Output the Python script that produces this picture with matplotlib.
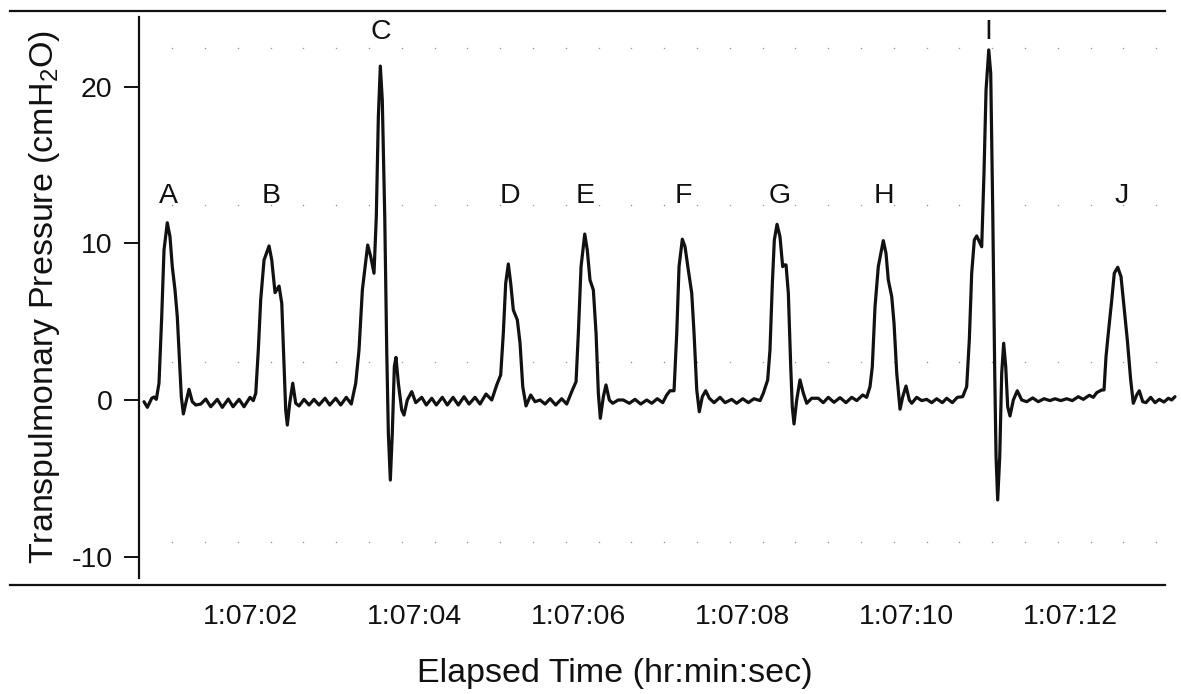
import numpy as np
import matplotlib
matplotlib.use("Agg")
import matplotlib.pyplot as plt
from matplotlib.lines import Line2D
from matplotlib.ticker import FuncFormatter

plt.rcParams['font.family'] = ['Liberation Sans', 'DejaVu Sans']
plt.rcParams['mathtext.default'] = 'regular'

# ---- data: time (seconds after 1:07:00) and transpulmonary pressure (cmH2O)
time_s = [
    0.707, 0.748, 0.801, 0.829, 0.857, 0.890, 0.923, 0.951, 0.991, 1.024, 1.052, 1.085, 1.113,
    1.143, 1.162, 1.187, 1.216, 1.256, 1.296, 1.338, 1.399, 1.460, 1.521, 1.601, 1.662, 1.735,
    1.793, 1.866, 1.927, 2.000, 2.040,
    2.070, 2.101, 2.130, 2.171, 2.232, 2.265, 2.305, 2.354, 2.387, 2.415, 2.435, 2.455, 2.484,
    2.521, 2.557, 2.598, 2.659, 2.720, 2.780, 2.841, 2.915, 2.972, 3.045, 3.106, 3.174, 3.235,
    3.289, 3.329, 3.370, 3.435, 3.472, 3.512, 3.540, 3.565, 3.589, 3.613, 3.643, 3.667, 3.687,
    3.711, 3.735, 3.760, 3.780, 3.809, 3.850, 3.878, 3.918, 3.972, 4.021, 4.094, 4.150, 4.216,
    4.272, 4.345, 4.406, 4.476, 4.540, 4.610, 4.671, 4.744, 4.805, 4.878, 4.948,
    5.009, 5.057, 5.089, 5.118, 5.150, 5.179, 5.211, 5.260, 5.293, 5.326, 5.366, 5.423, 5.476,
    5.537, 5.598, 5.659, 5.728, 5.801, 5.862,
    5.923, 5.976, 6.004, 6.037, 6.082, 6.113, 6.146, 6.187, 6.220, 6.248, 6.272, 6.309, 6.341,
    6.382, 6.423, 6.491, 6.552, 6.626, 6.695, 6.765, 6.838, 6.899, 6.967, 7.033,
    7.082, 7.122, 7.171, 7.204, 7.232, 7.272, 7.305, 7.345, 7.387, 7.415, 7.448, 7.479, 7.516,
    7.557, 7.601, 7.659, 7.732, 7.793, 7.874, 7.935, 8.009, 8.077, 8.146, 8.220,
    8.260, 8.313, 8.341, 8.370, 8.394, 8.427, 8.463, 8.496, 8.512, 8.537, 8.565, 8.594, 8.613,
    8.634, 8.667, 8.707, 8.748, 8.789, 8.850, 8.930,
    8.991, 9.052, 9.122, 9.195, 9.268, 9.338, 9.399, 9.472, 9.520,
    9.561, 9.589, 9.622, 9.662, 9.723, 9.756, 9.784, 9.826, 9.854, 9.887, 9.927, 9.960, 10.000,
    10.040, 10.070, 10.130, 10.191, 10.252, 10.313, 10.374, 10.443, 10.496, 10.565, 10.626, 10.691,
    10.740, 10.772, 10.801, 10.833, 10.862, 10.894, 10.923, 10.951, 10.976, 11.009, 11.033, 11.057,
    11.082, 11.098, 11.118, 11.143, 11.167, 11.191, 11.216, 11.240, 11.268, 11.309, 11.357, 11.411,
    11.472, 11.545, 11.613, 11.683, 11.756, 11.817, 11.887, 11.960, 12.028, 12.101, 12.162, 12.235,
    12.284,
    12.326, 12.387, 12.415, 12.439, 12.467, 12.509, 12.540, 12.582, 12.622, 12.659, 12.699, 12.740,
    12.772, 12.813, 12.845, 12.887, 12.927, 12.984, 13.037, 13.089, 13.146, 13.199, 13.240, 13.280,
]
pressure = [
    -0.11, -0.47, 0.11, 0.19, 0.04, 1.08, 5.32, 9.57, 11.31, 10.42, 8.51, 7.02, 5.32,
    2.13, 0.21, -0.89, -0.21, 0.68, -0.11, -0.32, -0.26, 0.06, -0.43, 0.04, -0.47, 0.06,
    -0.43, 0.04, -0.43, 0.17, -0.04,
    0.43, 3.19, 6.38, 8.93, 9.83, 8.93, 6.85, 7.27, 6.17, 2.13, -0.64, -1.60, -0.21,
    1.07, -0.21, -0.38, 0.04, -0.32, 0.04, -0.32, 0.11, -0.32, 0.11, -0.32, 0.17, -0.26,
    1.07, 3.19, 7.02, 9.89, 9.15, 8.09, 11.70, 18.08, 21.31, 19.14, 11.70, 3.19, -2.13,
    -5.11, -2.13, 2.13, 2.72, 1.07, -0.64, -0.96, 0.00, 0.53, -0.17, 0.17, -0.32, 0.11,
    -0.32, 0.17, -0.32, 0.17, -0.32, 0.21, -0.26, 0.17, -0.26, 0.38, 0.00,
    0.96, 1.60, 4.26, 7.45, 8.68, 7.45, 5.74, 5.11, 3.62, 0.85, -0.38, 0.32, -0.11,
    0.00, -0.26, 0.08, -0.32, 0.08, -0.26,
    0.53, 1.17, 4.26, 8.51, 10.59, 9.57, 7.66, 7.02, 4.26, 0.43, -1.17, 0.21, 0.96,
    0.00, -0.21, 0.00, 0.00, -0.21, 0.04, -0.26, 0.00, -0.21, 0.08, -0.17,
    0.32, 0.59, 0.59, 4.26, 8.51, 10.26, 9.78, 8.30, 6.81, 4.26, 0.64, -0.75, 0.21,
    0.59, 0.11, -0.17, 0.17, -0.17, 0.04, -0.21, 0.08, -0.17, 0.08, -0.04,
    0.43, 1.28, 3.19, 7.45, 10.21, 11.21, 10.42, 8.51, 8.62, 8.62, 6.81, 2.13, -0.43,
    -1.53, 0.00, 1.28, 0.43, -0.21, 0.11, 0.11,
    -0.17, 0.17, -0.15, 0.15, -0.17, 0.17, -0.04, 0.32, 0.17,
    0.85, 2.13, 5.95, 8.51, 10.17, 9.36, 7.66, 6.59, 4.89, 1.70, -0.59, 0.21, 0.89,
    0.00, -0.21, 0.17, -0.04, 0.04, -0.17, 0.08, -0.17, 0.11, -0.17, 0.17, 0.21,
    0.85, 3.83, 8.09, 10.21, 10.47, 10.10, 9.78, 14.47, 19.78, 22.34, 20.85, 12.34,
    1.70, -3.62, -6.38, -3.62, 1.70, 3.62, 2.13, -0.43, -1.02, 0.00, 0.59, 0.00,
    -0.11, 0.13, -0.11, 0.08, -0.04, 0.08, -0.04, 0.08, -0.04, 0.21, 0.04, 0.30,
    0.17,
    0.47, 0.64, 0.64, 2.76, 4.26, 6.38, 8.09, 8.47, 7.87, 5.95, 3.83, 1.28,
    -0.21, 0.32, 0.59, -0.11, -0.17, 0.17, -0.17, 0.04, -0.13, 0.11, 0.00, 0.21,
]

breath_labels = ['A', 'B', 'C', 'D', 'E', 'F', 'G', 'H', 'I', 'J']
label_time = [1.00, 2.26, 3.60, 5.17, 6.09, 7.29, 8.46, 9.73, 11.00, 12.63]
label_pressure = [13.0, 13.0, 23.5, 13.0, 13.0, 13.0, 13.0, 13.0, 23.5, 13.0]

y_ticks = [-10, 0, 10, 20]
x_ticks = [2, 4, 6, 8, 10, 12]
x_tick_prefix = '1:07:'

# background dot grid
dot_rows = [22.46, 12.44, 2.43, -9.06]
dot_cols = np.arange(1.05, 13.1, 0.4)

W, H = 1181, 694
fig = plt.figure(figsize=(W / 100, H / 100), dpi=100)
ax = fig.add_axes([139 / W, 1 - 578 / H, (1178 - 139) / W, (578 - 17) / H])

gx, gy = np.meshgrid(dot_cols, dot_rows)
ax.scatter(gx.ravel(), gy.ravel(), s=1.2, color='#9a9a9a', linewidths=0, zorder=1)

ax.plot(time_s, pressure, color='#111111', lw=2.3, solid_joinstyle='round',
        solid_capstyle='round', zorder=3, clip_on=False)

for lab, tx, ty in zip(breath_labels, label_time, label_pressure):
    ax.text(tx, ty, lab, ha='center', va='center', fontsize=20.5, color='#111111')

ax.set_xlim(0.646, 13.317)
ax.set_ylim(-11.36, 24.44)

for s in ['top', 'right', 'bottom']:
    ax.spines[s].set_visible(False)
ax.spines['left'].set_linewidth(1.6)
ax.spines['left'].set_color('#111111')

ax.set_yticks(y_ticks)
ax.set_yticklabels([str(v) for v in y_ticks])
ax.tick_params(axis='y', length=11, width=1.4, pad=8, labelsize=20.5, colors='#111111')
ax.set_xticks(x_ticks)
ax.xaxis.set_major_formatter(FuncFormatter(lambda v, p: f'{x_tick_prefix}{int(round(v)):02d}'))
ax.tick_params(axis='x', length=0, pad=19, labelsize=20.5, colors='#111111')

fig.text(615 / W, 1 - 682 / H, 'Elapsed Time (hr:min:sec)', ha='center', va='baseline',
         fontsize=24.5, color='#111111')
fig.text(53 / W, 1 - 297 / H, 'Transpulmonary Pressure (cmH$_{2}$O)', rotation=90,
         rotation_mode='anchor', ha='center', va='baseline', fontsize=24.5, color='#111111')

for yy in [11, 585]:
    fig.add_artist(Line2D([10 / W, 1165 / W], [1 - yy / H, 1 - yy / H],
                          transform=fig.transFigure, color='#111111', lw=1.6))

fig.savefig('out.png', dpi=100)
